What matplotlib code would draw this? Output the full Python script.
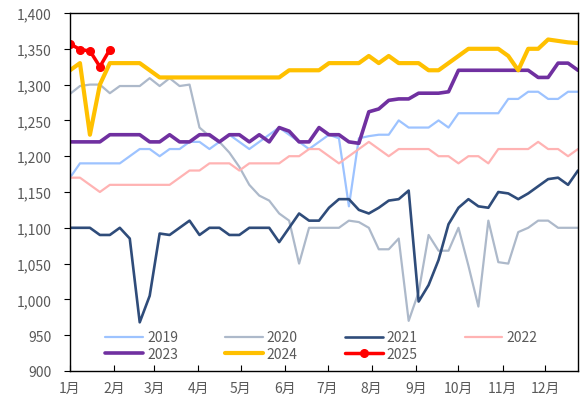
import numpy as np
import matplotlib
matplotlib.use("Agg")
import matplotlib.pyplot as plt
from matplotlib.ticker import FuncFormatter

plt.rcParams['font.family'] = ['Noto Sans CJK SC', 'DejaVu Sans']

# weekly readings, one point per week starting 1 Jan
y2019 = [1170, 1190, 1190, 1190, 1190, 1190, 1200, 1210, 1210, 1200, 1210, 1210, 1220,
         1220, 1210, 1220, 1230, 1220, 1210, 1220, 1230, 1240, 1230, 1220, 1210, 1220,
         1230, 1225, 1130, 1225, 1228, 1230, 1230, 1250, 1240, 1240, 1240, 1250, 1240,
         1260, 1260, 1260, 1260, 1260, 1280, 1280, 1290, 1290, 1280, 1280, 1290, 1290]
y2020 = [1287, 1298, 1300, 1300, 1288, 1298, 1298, 1298, 1309, 1298, 1309, 1298, 1300,
         1240, 1228, 1220, 1205, 1185, 1160, 1145, 1138, 1120, 1110, 1050, 1100, 1100,
         1100, 1100, 1110, 1108, 1100, 1070, 1070, 1085, 970, 1010, 1090, 1068, 1068,
         1100, 1047, 990, 1110, 1052, 1050, 1094, 1100, 1110, 1110, 1100, 1100, 1100]
y2021 = [1100, 1100, 1100, 1090, 1090, 1100, 1085, 968, 1005, 1092, 1090, 1100, 1110,
         1090, 1100, 1100, 1090, 1090, 1100, 1100, 1100, 1080, 1100, 1120, 1110, 1110,
         1128, 1140, 1140, 1125, 1120, 1128, 1138, 1140, 1152, 997, 1020, 1055, 1105,
         1128, 1140, 1130, 1128, 1150, 1148, 1140, 1148, 1158, 1168, 1170, 1160, 1180]
y2022 = [1170, 1170, 1160, 1150, 1160, 1160, 1160, 1160, 1160, 1160, 1160, 1170, 1180,
         1180, 1190, 1190, 1190, 1180, 1190, 1190, 1190, 1190, 1200, 1200, 1210, 1210,
         1200, 1190, 1200, 1210, 1220, 1210, 1200, 1210, 1210, 1210, 1210, 1200, 1200,
         1190, 1200, 1200, 1190, 1210, 1210, 1210, 1210, 1220, 1210, 1210, 1200, 1210]
y2023 = [1220, 1220, 1220, 1220, 1230, 1230, 1230, 1230, 1220, 1220, 1230, 1220, 1220,
         1230, 1230, 1220, 1230, 1230, 1220, 1230, 1220, 1240, 1235, 1220, 1220, 1240,
         1230, 1230, 1220, 1218, 1262, 1266, 1278, 1280, 1280, 1288, 1288, 1288, 1290,
         1320, 1320, 1320, 1320, 1320, 1320, 1320, 1320, 1310, 1310, 1330, 1330, 1320]
y2024 = [1320, 1330, 1230, 1300, 1330, 1330, 1330, 1330, 1320, 1310, 1310, 1310, 1310,
         1310, 1310, 1310, 1310, 1310, 1310, 1310, 1310, 1310, 1320, 1320, 1320, 1320,
         1330, 1330, 1330, 1330, 1340, 1330, 1340, 1330, 1330, 1330, 1320, 1320, 1330,
         1340, 1350, 1350, 1350, 1350, 1340, 1320, 1350, 1350, 1363, 1361, 1359, 1358]
y2025 = [1357, 1349, 1347, 1325, 1349]

month_labels = ["1月", "2月", "3月", "4月", "5月", "6月", "7月", "8月", "9月", "10月", "11月", "12月"]
month_start = [0, 31, 59, 90, 120, 151, 181, 212, 243, 273, 304, 334]

series = [
    ("2019", y2019, "#9DC3FF", 1.6, None),
    ("2020", y2020, "#ADB9CA", 1.6, None),
    ("2021", y2021, "#2F4C7A", 1.9, None),
    ("2022", y2022, "#FFB3B3", 1.6, None),
    ("2023", y2023, "#7030A0", 2.6, None),
    ("2024", y2024, "#FFC000", 3.0, None),
    ("2025", y2025, "#FF0000", 2.5, "o"),
]

fig = plt.figure(figsize=(5.87, 4.06), dpi=100)
ax = fig.add_axes([70 / 587, 34 / 406, 508 / 587, 358 / 406])

lines = {}
for name, vals, col, lw, mk in series:
    days = np.arange(len(vals)) * 7
    lines[name], = ax.plot(days, vals, color=col, lw=lw, label=name, marker=mk, markersize=5.5,
                           solid_joinstyle="round", solid_capstyle="round")

ax.set_xlim(0, 357)
ax.set_ylim(900, 1400)
ax.set_yticks(range(900, 1401, 50))
ax.yaxis.set_major_formatter(FuncFormatter(lambda v, p: f"{v:,.0f}"))
ax.set_xticks(month_start)
ax.set_xticklabels(month_labels)

for s in ax.spines.values():
    s.set_color("black")
    s.set_linewidth(1.0)
ax.tick_params(axis="y", direction="out", length=4, pad=9, labelsize=10, labelcolor="#595959")
ax.tick_params(axis="x", direction="in", length=4, pad=7, labelsize=10, labelcolor="#595959")

# legend fills by column, so order it to read row by row
order = ["2019", "2023", "2020", "2024", "2021", "2025", "2022"]
ax.legend([lines[k] for k in order], order, loc="lower center", bbox_to_anchor=(0.495, 0.0),
          ncol=4, frameon=False, fontsize=10, labelcolor="#595959", handlelength=2.7,
          handletextpad=0.3, columnspacing=3.4, labelspacing=0.2, borderaxespad=0.3)

fig.savefig("out.png", dpi=100)
